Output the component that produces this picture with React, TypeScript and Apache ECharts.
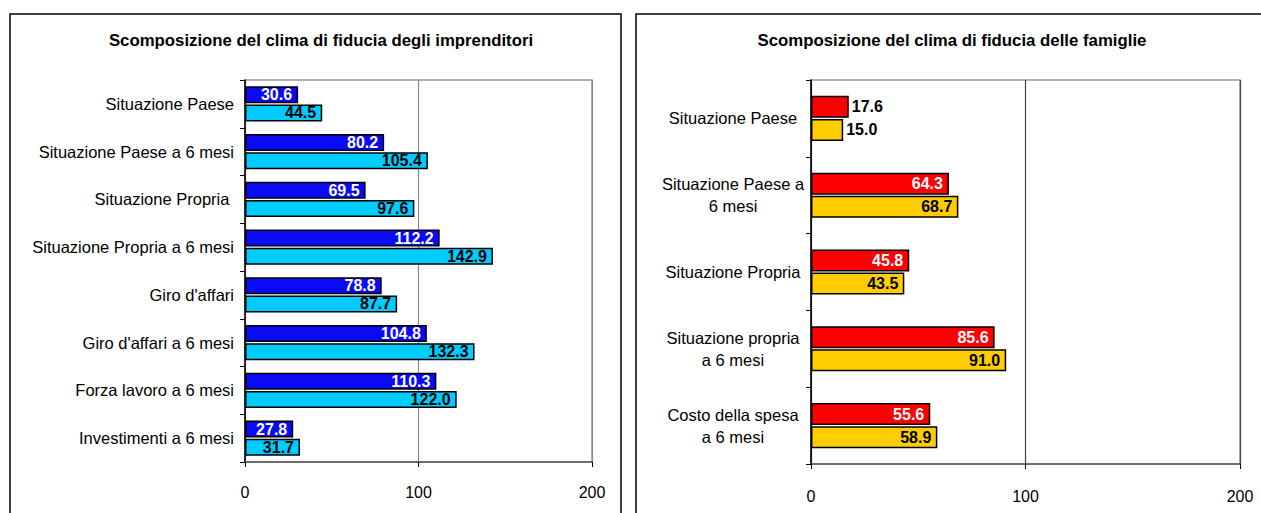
import React, { useEffect, useRef } from "react";
import * as echarts from "echarts";

const leftCategories = [
  "Situazione Paese",
  "Situazione Paese a 6 mesi",
  "Situazione Propria ",
  "Situazione Propria a 6 mesi",
  "Giro d'affari",
  "Giro d'affari a 6 mesi",
  "Forza lavoro a 6 mesi",
  "Investimenti a 6 mesi",
];
const leftSeriesA = [30.6, 80.2, 69.5, 112.2, 78.8, 104.8, 110.3, 27.8];
const leftSeriesB = [44.5, 105.4, 97.6, 142.9, 87.7, 132.3, 122.0, 31.7];

const rightCategories = [
  "Situazione Paese",
  "Situazione Paese a\n6 mesi",
  "Situazione Propria",
  "Situazione propria\na 6 mesi",
  "Costo della spesa\na 6 mesi",
];
const rightSeriesA = [17.6, 64.3, 45.8, 85.6, 55.6];
const rightSeriesB = [15.0, 68.7, 43.5, 91.0, 58.9];

const xTicks = [0, 100, 200];

const FONT = "Liberation Sans, Arial, sans-serif";

function barData(values: number[], inColor: string) {
  return values.map((v) => ({
    value: v,
    label: {
      position: v < 20 ? "right" : "insideRight",
      distance: v < 20 ? 3 : 6,
      color: v < 20 ? "#000" : inColor,
    },
  }));
}

export default function App() {
  const ref = useRef<HTMLDivElement>(null);
  useEffect(() => {
    if (!ref.current) return;
    const chart = echarts.init(ref.current, null, { renderer: "svg" });
    const labelBase = {
      show: true,
      fontFamily: FONT,
      fontWeight: "bold",
      fontSize: 16,
      formatter: (p: any) => Number(p.value).toFixed(1),
    };
    const xAxisCommon = (gridIndex: number, margin: number, lineColor: string) => ({
      type: "value",
      gridIndex,
      min: xTicks[0],
      max: xTicks[xTicks.length - 1],
      interval: xTicks[1] - xTicks[0],
      axisLine: { show: true, lineStyle: { color: "#555", width: 1.5 } },
      axisTick: { show: true, length: 5, lineStyle: { color: "#000" } },
      axisLabel: { color: "#000", fontFamily: FONT, fontSize: 16, margin },
      splitLine: { show: true, lineStyle: { color: lineColor, width: 1.2 } },
    });
    chart.setOption({
      animation: false,
      backgroundColor: "#fff",
      title: [
        {
          text: "Scomposizione del clima di fiducia degli imprenditori",
          left: 316,
          top: 27,
          textAlign: "center",
          textStyle: { fontFamily: FONT, fontWeight: "bold", fontSize: 16.8, color: "#000" },
        },
        {
          text: "Scomposizione del clima di fiducia delle famiglie",
          left: 947,
          top: 27,
          textAlign: "center",
          textStyle: { fontFamily: FONT, fontWeight: "bold", fontSize: 16.8, color: "#000" },
        },
      ],
      graphic: [
        {
          type: "rect",
          shape: { x: 10, y: 14, width: 611, height: 520 },
          style: { fill: "none", stroke: "#000", lineWidth: 1.5 },
          z: -1,
        },
        {
          type: "rect",
          shape: { x: 636, y: 14, width: 640, height: 520 },
          style: { fill: "none", stroke: "#000", lineWidth: 1.5 },
          z: -1,
        },
      ],
      grid: [
        { left: 245, top: 80, width: 347, height: 382, show: true, borderColor: "#999", borderWidth: 1.5 },
        { left: 811, top: 80, width: 429, height: 384, show: true, borderColor: "#999", borderWidth: 1.5 },
      ],
      xAxis: [xAxisCommon(0, 22, "#888"), xAxisCommon(1, 24, "#444")],
      yAxis: [
        {
          type: "category",
          gridIndex: 0,
          inverse: true,
          data: leftCategories,
          axisLine: { show: true, lineStyle: { color: "#000", width: 1.5 } },
          axisTick: { show: true, length: 5, lineStyle: { color: "#000" } },
          axisLabel: { color: "#000", fontFamily: FONT, fontSize: 16.5, margin: 11 },
        },
        {
          type: "category",
          gridIndex: 1,
          inverse: true,
          data: rightCategories,
          axisLine: { show: true, lineStyle: { color: "#000", width: 1.5 } },
          axisTick: { show: true, length: 5, lineStyle: { color: "#000" } },
          axisLabel: {
            color: "#000",
            fontFamily: FONT,
            fontSize: 16.5,
            margin: 78,
            align: "center",
            lineHeight: 22,
          },
        },
      ],
      series: [
        {
          type: "bar",
          xAxisIndex: 0,
          yAxisIndex: 0,
          data: barData(leftSeriesA, "#fff"),
          barWidth: 17,
          barGap: "6%",
          itemStyle: { color: "#0A0AF5", borderColor: "#000", borderWidth: 1.5 },
          label: { ...labelBase },
        },
        {
          type: "bar",
          xAxisIndex: 0,
          yAxisIndex: 0,
          data: barData(leftSeriesB, "#000"),
          barWidth: 17,
          barGap: "6%",
          itemStyle: { color: "#00CCFF", borderColor: "#000", borderWidth: 1.5 },
          label: { ...labelBase },
        },
        {
          type: "bar",
          xAxisIndex: 1,
          yAxisIndex: 1,
          data: barData(rightSeriesA, "#fff"),
          barWidth: 22,
          barGap: "5%",
          itemStyle: { color: "#FF0000", borderColor: "#000", borderWidth: 1.5 },
          label: { ...labelBase },
        },
        {
          type: "bar",
          xAxisIndex: 1,
          yAxisIndex: 1,
          data: barData(rightSeriesB, "#000"),
          barWidth: 22,
          barGap: "5%",
          itemStyle: { color: "#FFCC00", borderColor: "#000", borderWidth: 1.5 },
          label: { ...labelBase },
        },
      ],
    });
    return () => chart.dispose();
  }, []);
  return (
    <div
      ref={ref}
      style={{ position: "fixed", left: 0, top: 0, width: 1261, height: 513 }}
    />
  );
}
